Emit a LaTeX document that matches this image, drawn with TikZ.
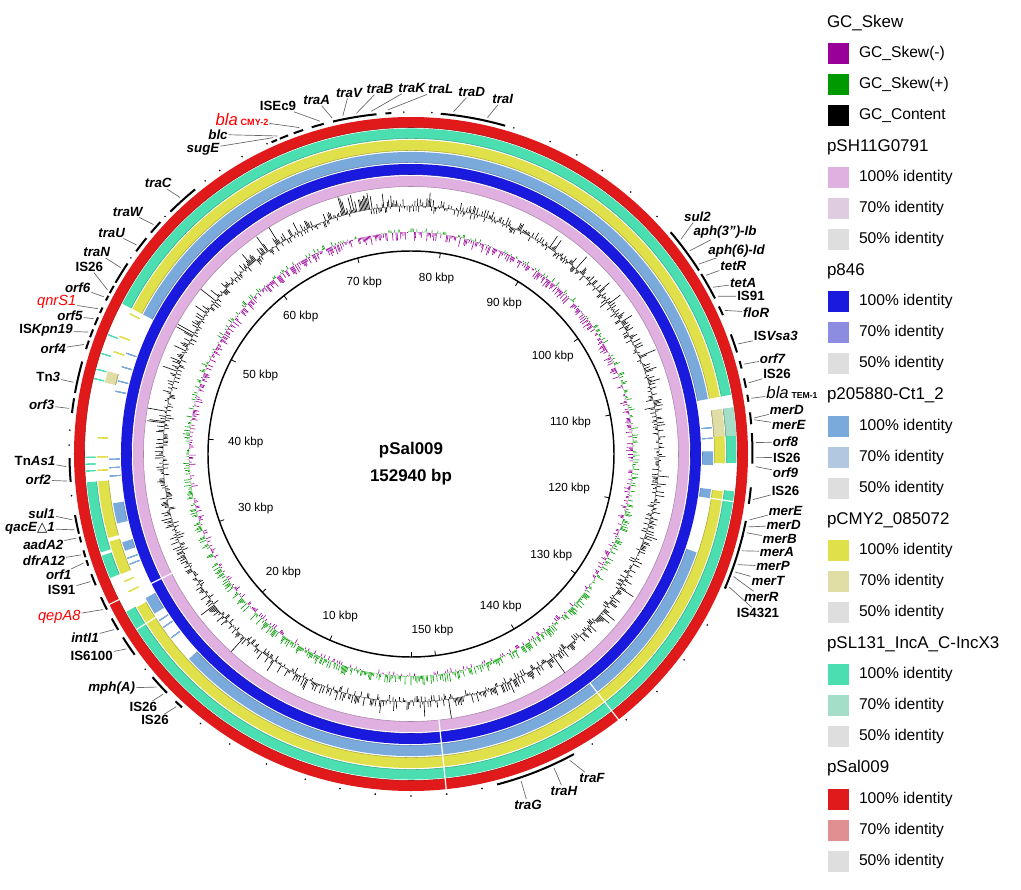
\documentclass[tikz,border=0pt]{standalone}
\usepackage{fontspec}
\setmainfont{Liberation Sans}
\newfontfamily\symfont{DejaVu Sans}
\usepackage{tikz}
\usetikzlibrary{positioning}
\tikzset{>=stealth}
\usepackage{xcolor}
\definecolor{skewneg}{HTML}{990099}
\definecolor{skewpos}{HTML}{009900}
\definecolor{pink100}{HTML}{E0B0E0}
\definecolor{pink70}{HTML}{E0CCE0}
\definecolor{blue100}{HTML}{1A1ADE}
\definecolor{blue70}{HTML}{8C8CE0}
\definecolor{lblue100}{HTML}{7AAADC}
\definecolor{lblue70}{HTML}{B2C8E0}
\definecolor{yel100}{HTML}{E0E04A}
\definecolor{yel70}{HTML}{E0DEA4}
\definecolor{teal100}{HTML}{4ADEB0}
\definecolor{teal70}{HTML}{A4DEC8}
\definecolor{red100}{HTML}{E01A1A}
\definecolor{red70}{HTML}{E09090}
\definecolor{gray50}{HTML}{DEDEDE}
\tikzset{
  lbl/.style={font=\bfseries\itshape\fontsize{10}{12}\selectfont, inner sep=0.6pt},
  leader/.style={draw=black!60, line width=0.5pt},
  genearc/.style={line width=1.5pt},
  ticklbl/.style={font=\fontsize{8.8}{10}\selectfont, inner sep=1pt},
  lghead/.style={font=\fontsize{12.7}{15}\selectfont, anchor=west, inner sep=0pt},
  lgitem/.style={font=\fontsize{11.7}{14}\selectfont, anchor=west, inner sep=0pt},
  swatch/.style={minimum size=15.75pt, inner sep=0pt},
  sepline/.style={white, line width=0.9pt},
}
\newcommand{\ringseg}[5]{%
  \fill[#1] (#4:#2) arc[start angle=#4,end angle=#5,radius=#2] -- (#5:#3) arc[start angle=#5,end angle=#4,radius=#3] -- cycle;
  \draw[#1!75!black,line width=0.4pt] (#4:#2) arc[start angle=#4,end angle=#5,radius=#2];
}

\begin{document}
\begin{tikzpicture}[x=0.75pt,y=0.75pt]
\useasboundingbox (-411,-435) rectangle (610,454);

\pgfmathsetseed{2024}
\foreach \a in {0,0.3,...,359.8}{
  \pgfmathsetmacro\s{(rnd-0.5)*14-2.5*sin(\a)}
  \ifdim\s pt>0pt
    \draw[skewpos,line width=0.45pt] (\a:222) -- (\a:{222+(\s)});
  \else
    \draw[skewneg,line width=0.45pt] (\a:222) -- (\a:{222+(\s)});
  \fi
}
\draw[black!50,line width=0.3pt] (0,0) circle[radius=248];
\foreach \a in {0,0.3,...,359.8}{
  \pgfmathsetmacro\h{(rnd-0.42)*15+(rnd>0.85)*(rnd-0.3)*22+(abs(\a-103)<4)*rnd*16}
  \draw[line width=0.45pt] (\a:248) -- (\a:{248+(\h)});
}

\draw[line width=1.1pt] (0,0) circle[radius=203];
\foreach \k in {0,10,...,150}{
  \pgfmathsetmacro\t{mod(630-2.35387*\k,360)}
  \draw[line width=0.6pt] (\t:203) -- (\t:198);
}
\foreach \k in {10,20,...,150}{
  \pgfmathsetmacro\t{mod(630-2.35387*\k,360)}
  \node[ticklbl, anchor=\t] (k\k) at (\t:185) {\k\ kbp};
}

\ringseg{pink100}{267.5}{278}{0}{360}
\ringseg{blue100}{279.5}{290}{0}{360}
\foreach \a/\b in {10.5/152.5, -137.3/-19, -2.1/0.5, -8.4/-6.7, 189.4/193.3, 197/198.7, 208.5/211.9}
  \ringseg{lblue100}{291.5}{302}{\a}{\b}
\foreach \a in {160.5, 163.2, 166, 168, 181, 182.6, 184.2, 200.2, 201.4, 213.5, 215, 217.5, 3, 5}
  \draw[lblue100, line width=0.6pt] (\a:291.5) -- (\a:302);
\foreach \a/\b in {10.5/152.5, -150.8/-6.8, -1.7/3.3, 185/195.5, 196.2/202.5}
  \ringseg{yel100}{303.5}{314}{\a}{\b}
\foreach \a/\b in {3.3/8.2, 164.8/166.8}
  \ringseg{yel70}{303.5}{314}{\a}{\b}
\foreach \a in {153.5, 158, 161, 177, 180.5, 183, 204, 206}
  \draw[yel100, line width=0.6pt] (\a:303.5) -- (\a:314);
\foreach \a/\b in {10.5/152.5, -151/-6.6, -1.6/3.3, 185/197.6, 198.2/202.4}
  \ringseg{teal100}{315.5}{325.5}{\a}{\b}
\ringseg{teal70}{315.5}{325.5}{3.3}{8.2}
\foreach \a in {158.5, 162, 164.9, 166.6, 180.6, 181.8, 183}
  \draw[teal100, line width=0.6pt] (\a:315.5) -- (\a:325.5);
\ringseg{red100}{326.5}{337}{0}{360}

\foreach \a in {-84, 206.5}
  \draw[sepline] (\a:267) -- (\a:338);
\foreach \a in {-52}
  \draw[sepline] (\a:291) -- (\a:338);
\foreach \a in {212.6, -8.4}
  \draw[sepline] (\a:303) -- (\a:326);

\foreach \a/\b in {74/85, 93.3/94.3, 95.8/103.2, 104.8/106.9, 108.4/110.1, 111.1/112.6, 113.1/114.1,
  129.2/134.8, 137.2/139.6, 140.8/143.6, 146.1/149.9, 150.5/151.9, 152.4/153.3, 154.6/155.6,
  156.4/157.8, 158.6/160, 160.6/162.1, 164.3/169.7, 170.6/173.1, 180.7/184.7, 190.3/193.5,
  194/195, 196.4/197.6, 198.1/199.1, 200.6/202.6, 204.8/207.1, 208.8/211, 212.5/216,
  220.8/224.4, 226.4/227.9, -75.4/-61.5, 32.5/40.5, 27.1/31.8, 24/25.6, 17.3/20.5,
  14.5/15.8, 11.2/12.8, 8.8/10, 5/7, -1.6/3.5, -8.4/-5.6, -23.2/-11.3}
  \draw[genearc] (\a:341.5) arc[start angle=\a,end angle=\b,radius=341.5];
\foreach \a in {44, 50, 56, 61, 66, 72.5, 86.5, 91.2, 114.9, 119.6, 124, 127, 136, 145, 176, 178.5,
  187, 219, 232, 238, 245, 252, 258, 264, 270, 276, 282, 302, 309, 316, 323, 330, 337, 346}
  \fill (\a:342) circle[radius=0.9];

\foreach \x/\y/\a/\t [count=\q] in {
  91.7/355/77.2/traI, 60.7/362/82.9/traD, 29.7/365/93.8/traL, 0.7/366/96.6/traK,
  -31/365/99.1/traB, -62/361.3/101.4/traV, -94.3/354/103.2/traA, -133/348/105.3/{\upshape ISEc9},
  -169/334.5/108.9/{\color{red}\mdseries\fontsize{12.5}{14}\selectfont bla\,{\upshape\bfseries\fontsize{6.8}{8}\selectfont CMY-2}},
  -193/319.5/112.8/blc, -208/305/113.5/sugE,
  -252.7/270.7/132/traC, -283.3/242.3/138.3/traW, -299.3/221.3/142.7/traU, -314.3/201.7/147.3/traN,
  -321.7/187.3/151.6/{\upshape IS26}, -333.3/166.7/152.9/orf6,
  -354.3/151.7/155.1/{\color{red}\mdseries\fontsize{11}{13}\selectfont qnrS1},
  -341/138/156.9/orf5, -365/123.3/159.3/{\upshape IS}Kpn19, -357.7/105/161.5/orf4,
  -362.7/77.3/168/{\upshape Tn}3, -369.3/49/172.4/orf3, -376/-7/182.1/{\upshape Tn}As1,
  -372.7/-26/184.5/orf2, -369.3/-59.3/191/sul1,
  -381/-74.3/192.7/qacE{\symfont\upshape\mdseries △}1,
  -367.7/-91/194.1/aadA2, -367/-107/197/dfrA12, -352.3/-121/198.4/orf1,
  -349.3/-136/201.7/{\upshape IS91},
  -351.7/-162.7/206.8/{\color{red}\mdseries\fontsize{11}{13}\selectfont qepA8},
  -326/-183.3/210.6/intI1, -319.3/-202/214.4/{\upshape IS6100}, -299.3/-234.3/222.5/mph(A),
  -267.7/-252.7/224.1/{\upshape IS26}, -256/-266/227.1/{\upshape IS26},
  117/-350.6/-71.4/traG, 152.9/-337/-65.5/traH, 181/-323.8/-62.6/traF,
  286.5/237.5/38.5/sul2, 314/221.5/36.1/aph(3")-Ib, 325.6/203.3/33.4/aph(6)-Id,
  322.4/188.5/31.2/tetR, 332.2/170.8/28.9/tetA, 340/157.7/27.2/{\upshape IS91},
  345.2/141.7/24.6/floR, 364.8/118/18.6/{\upshape IS}Vsa3, 361.5/95/15.1/orf7,
  366/79.6/11.9/{\upshape IS26},
  381/61/9.3/{\mdseries\fontsize{12.5}{14}\selectfont bla\,{\upshape\bfseries\fontsize{6.5}{8}\selectfont TEM-1}},
  375.8/44/6/merD, 377.8/29/5.7/merE, 374.5/12/1.9/orf8, 375.8/-3.5/-0.6/{\upshape IS26},
  374.5/-18.4/-2.1/orf9, 374.5/-37/-7.6/{\upshape IS26}, 374.5/-56.5/-11/merE,
  372.6/-71.4/-12.2/merD, 368.7/-85/-13.2/merB, 366/-97.6/-16.3/merA, 362/-112.4/-18.7/merP,
  357/-127.2/-20/merT, 350.4/-143/-20.8/merR, 347/-159/-22.7/{\upshape IS4321}}{
  \coordinate (g\q) at (\a:345);
  \node[lbl] (l\q) at (\x,\y) {\t};
  \draw[leader] (l\q) -- (g\q);
}

\node[font=\bfseries\fontsize{12.7}{15}\selectfont] (pname) at (0,4) {pSal009};
\node[font=\bfseries\fontsize{12.7}{15}\selectfont] (plen) at (0,-23) {152940 bp};

\node[lghead] (hd0) at (415.8,431.3) {GC\_Skew};
\foreach \c/\t [count=\j] in {skewneg/GC\_Skew(-), skewpos/GC\_Skew(+), black/GC\_Content}{
  \pgfmathsetmacro\yy{431.3-30.5-31*(\j-1)}
  \node[swatch, fill=\c] (sw0\j) at (427,\yy) {};
  \node[lgitem, right=7.5pt of sw0\j] (it0\j) {\t};
}
\foreach \hd/\ca/\cb [count=\i] in {pSH11G0791/pink100/pink70, p846/blue100/blue70,
  p205880-Ct1\_2/lblue100/lblue70, pCMY2\_085072/yel100/yel70,
  pSL131\_IncA\_C-IncX3/teal100/teal70, pSal009/red100/red70}{
  \pgfmathsetmacro\yh{431.3-124.3*\i}
  \node[lghead] (hd\i) at (415.8,\yh) {\hd};
  \foreach \c/\p [count=\j] in {\ca/100, \cb/70, gray50/50}{
    \pgfmathsetmacro\yy{\yh-30.5-31*(\j-1)}
    \node[swatch, fill=\c] (sw\i\j) at (427,\yy) {};
    \node[lgitem, right=7.5pt of sw\i\j] (it\i\j) {\p\% identity};
  }
}
\end{tikzpicture}
\end{document}
